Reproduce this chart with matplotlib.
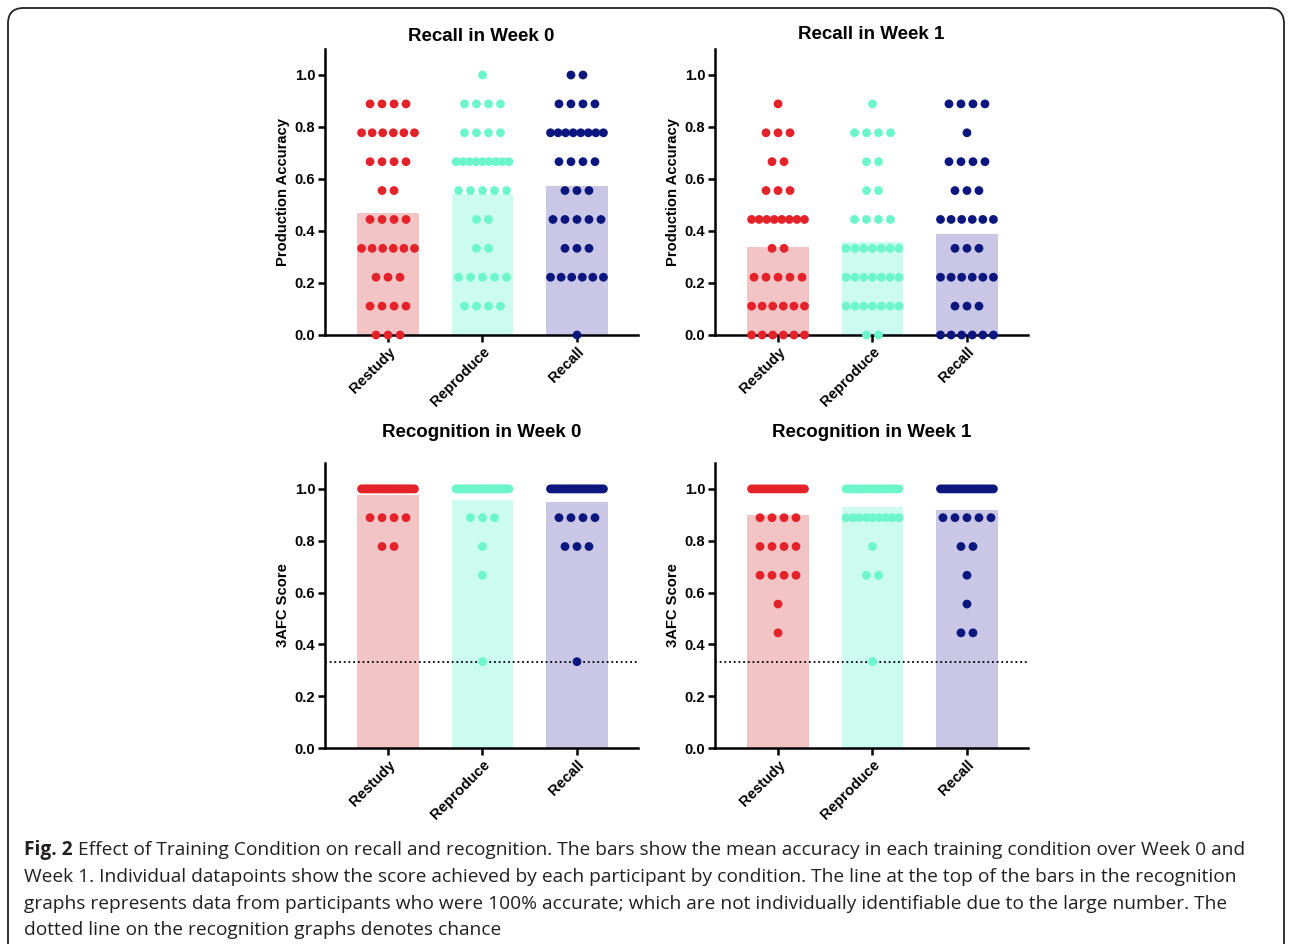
import matplotlib
matplotlib.use("Agg")
import matplotlib.pyplot as plt
from matplotlib.patches import FancyBboxPatch
import numpy as np

plt.rcParams['font.family'] = ['Liberation Sans', 'DejaVu Sans']

# score levels (0/9 .. 9/9) and number of participants at each level
levels = [0/9, 1/9, 2/9, 3/9, 4/9, 5/9, 6/9, 7/9, 8/9, 9/9]
conditions = ['Restudy', 'Reproduce', 'Recall']

recall_w0 = {
    'Restudy':   [3, 4, 3, 6, 4, 2, 4, 6, 4, 0],
    'Reproduce': [0, 4, 5, 2, 2, 5, 9, 4, 4, 1],
    'Recall':    [1, 0, 6, 3, 5, 3, 4, 8, 4, 2],
}
recall_w1 = {
    'Restudy':   [6, 6, 5, 2, 8, 3, 2, 3, 1, 0],
    'Reproduce': [2, 7, 7, 7, 4, 2, 2, 4, 1, 0],
    'Recall':    [6, 3, 6, 3, 6, 3, 4, 1, 4, 0],
}
recog_w0 = {
    'Restudy':   [0, 0, 0, 0, 0, 0, 0, 2, 4, 30],
    'Reproduce': [0, 0, 0, 1, 0, 0, 1, 1, 3, 30],
    'Recall':    [0, 0, 0, 1, 0, 0, 0, 3, 4, 28],
}
recog_w1 = {
    'Restudy':   [0, 0, 0, 0, 1, 1, 4, 4, 4, 22],
    'Reproduce': [0, 0, 0, 1, 0, 0, 2, 1, 9, 23],
    'Recall':    [0, 0, 0, 0, 2, 1, 1, 2, 5, 25],
}
chance = 1/3

dot_colors = {'Restudy': '#E4222A', 'Reproduce': '#6CF6CA', 'Recall': '#0B177E'}
bar_colors = {'Restudy': '#F2C4C5', 'Reproduce': '#CCFBEF', 'Recall': '#C9C6E6'}

caption_lines = [
    "Effect of Training Condition on recall and recognition. The bars show the mean accuracy in each training condition over Week 0 and",
    "Week 1. Individual datapoints show the score achieved by each participant by condition. The line at the top of the bars in the recognition",
    "graphs represents data from participants who were 100% accurate; which are not individually identifiable due to the large number. The",
    "dotted line on the recognition graphs denotes chance",
]

W, H = 1292, 944
fig = plt.figure(figsize=(W / 100, H / 100), dpi=100)


def px_axes(left, right, top, bottom):
    return fig.add_axes([left / W, 1 - bottom / H, (right - left) / W, (bottom - top) / H])


def draw_panel(ax, data, title, ylabel, title_pad, show_chance=False):
    step, max_span = 0.127, 0.56
    for i, cond in enumerate(conditions):
        counts = np.array(data[cond])
        mean = np.sum(counts * np.array(levels)) / counts.sum()
        ax.bar(i, mean, width=0.656, color=bar_colors[cond], zorder=1)
        xs, ys = [], []
        for lvl, n in zip(levels, counts):
            if n == 0:
                continue
            gap = step if n == 1 else min(step, max_span / (n - 1))
            offs = (np.arange(n) - (n - 1) / 2) * gap
            xs.extend(i + offs)
            ys.extend([lvl] * n)
        ax.scatter(xs, ys, s=40, color=dot_colors[cond], edgecolors='none',
                   zorder=4, clip_on=False)
    if show_chance:
        ax.axhline(chance, color='black', ls=(0, (1, 1.6)), lw=1.3, zorder=2)

    ax.set_xlim(-0.667, 2.646)
    ax.set_ylim(0, 1.1)
    ax.set_yticks([0, 0.2, 0.4, 0.6, 0.8, 1.0])
    ax.set_yticklabels(['0.0', '0.2', '0.4', '0.6', '0.8', '1.0'])
    ax.set_xticks(range(3))
    ax.set_xticklabels(conditions, rotation=45, ha='right', rotation_mode='anchor')
    for lab in ax.get_xticklabels() + ax.get_yticklabels():
        lab.set_fontweight('bold')
        lab.set_fontsize(10.6)
    ax.tick_params(width=1.8, length=5, pad=2, direction='out')
    for s in ['top', 'right']:
        ax.spines[s].set_visible(False)
    for s in ['left', 'bottom']:
        ax.spines[s].set_linewidth(1.8)
    ax.set_title(title, fontsize=13.5, fontweight='bold', pad=title_pad)
    ax.set_ylabel(ylabel, fontsize=10.6, fontweight='bold', labelpad=3)


ax1 = px_axes(325, 638, 49, 335)
ax2 = px_axes(715, 1028, 49, 335)
ax3 = px_axes(325, 638, 463, 748)
ax4 = px_axes(715, 1028, 463, 748)

draw_panel(ax1, recall_w0, 'Recall in Week 0', 'Production Accuracy', 6)
draw_panel(ax2, recall_w1, 'Recall in Week 1', 'Production Accuracy', 7)
draw_panel(ax3, recog_w0, 'Recognition in Week 0', '3AFC Score', 19, show_chance=True)
draw_panel(ax4, recog_w1, 'Recognition in Week 1', '3AFC Score', 19, show_chance=True)

# outer rounded frame (bottom runs off the page)
frame = FancyBboxPatch((8 / W, -0.05), (W - 16) / W, (H - 8) / H + 0.05,
                       boxstyle='round,pad=0,rounding_size=0.012',
                       transform=fig.transFigure, fill=False, lw=1.3,
                       edgecolor='#222222', mutation_aspect=W / H)
fig.patches.append(frame)

# caption
cap_kw = dict(fontsize=13.8, family=['Open Sans', 'DejaVu Sans'], color='#231F20')
base_y = [855, 882, 909, 935]
t0 = fig.text(24 / W, 1 - base_y[0] / H, 'Fig. 2', fontweight='bold', va='baseline', **cap_kw)
first = fig.text(0, 0, ' ' + caption_lines[0], va='baseline', **cap_kw)
for line, y in zip(caption_lines[1:], base_y[1:]):
    fig.text(24 / W, 1 - y / H, line, va='baseline', **cap_kw)

fig.canvas.draw()
bb = t0.get_window_extent()
first.set_position((bb.x1 / W, 1 - base_y[0] / H))

fig.savefig('out.png', dpi=100)
